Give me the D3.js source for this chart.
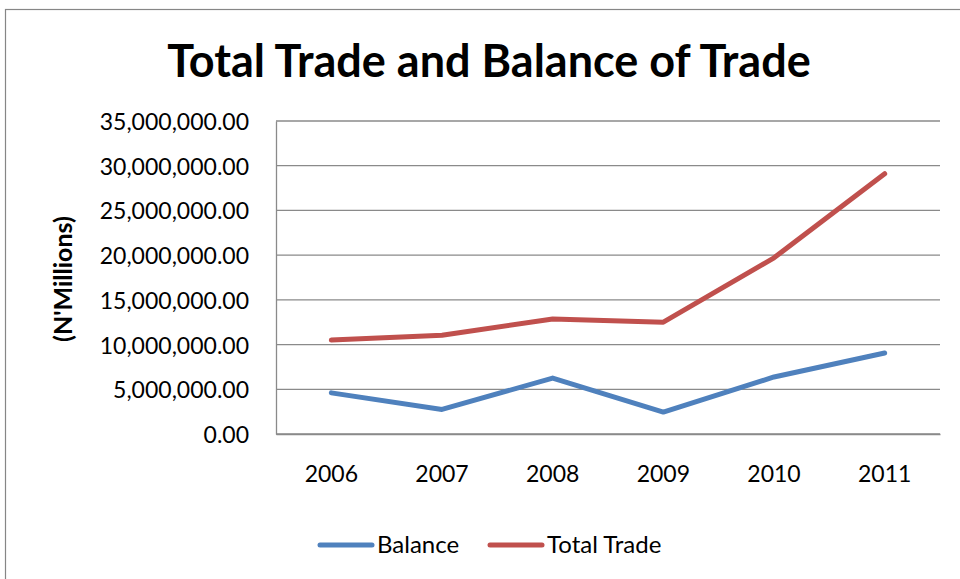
<!DOCTYPE html>
<html>
<head>
<meta charset="utf-8">
<script src="https://cdn.jsdelivr.net/npm/d3@7"></script>
<style>
  html, body { margin: 0; padding: 0; background: #fff; }
  svg { display: block; }
</style>
</head>
<body>
<svg id="chart" width="960" height="579"></svg>
<script>
// Chart data
const years = ["2006", "2007", "2008", "2009", "2010", "2011"];
const balance = [4600000, 2750000, 6250000, 2450000, 6380000, 9050000];
const totalTrade = [10500000, 11050000, 12870000, 12500000, 19700000, 29100000];
const yTicks = [0, 5000000, 10000000, 15000000, 20000000, 25000000, 30000000, 35000000];
const seriesNames = ["Balance", "Total Trade"];
const seriesColors = ["#4F81BD", "#C0504D"];

const font = "Lato, 'Open Sans', sans-serif";
const svg = d3.select("#chart");

// Outer chart frame
svg.append("rect")
  .attr("x", 5.5).attr("y", 9.5)
  .attr("width", 970).attr("height", 600)
  .attr("fill", "#fff").attr("stroke", "#868686").attr("stroke-width", 1.2);

const plot = { left: 276, right: 940, top: 121, bottom: 434 };

const x = d3.scaleBand().domain(years).range([plot.left, plot.right]);
const y = d3.scaleLinear().domain([0, 35000000]).range([plot.bottom, plot.top]);

const fmt = d3.format(",.2f");

// Horizontal gridlines
svg.append("g")
  .selectAll("line")
  .data(yTicks)
  .join("line")
  .attr("x1", plot.left).attr("x2", plot.right)
  .attr("y1", d => y(d)).attr("y2", d => y(d))
  .attr("stroke", "#8a8a8a").attr("stroke-width", 1.3);

// Y axis
const yAxis = svg.append("g")
  .attr("transform", `translate(${plot.left},0)`)
  .call(d3.axisLeft(y).tickValues(yTicks).tickFormat(fmt).tickSize(0).tickPadding(27));
yAxis.select(".domain").attr("stroke", "#8a8a8a").attr("stroke-width", 1.3);
yAxis.selectAll("text")
  .attr("font-family", font).attr("font-size", 23).attr("fill", "#000")
  .attr("dy", "0.37em");

// X axis
const xAxis = svg.append("g")
  .attr("transform", `translate(0,${plot.bottom})`)
  .call(d3.axisBottom(x).tickSize(0).tickPadding(32));
xAxis.select(".domain").attr("stroke", "#8a8a8a").attr("stroke-width", 1.3);
xAxis.selectAll("text")
  .attr("font-family", font).attr("font-size", 23).attr("fill", "#000");

// Y axis title
svg.append("text")
  .attr("transform", "translate(72,279) rotate(-90)")
  .attr("text-anchor", "middle")
  .attr("font-family", font).attr("font-size", 25).attr("font-weight", "bold")
  .text("(N'Millions)");

// Title
svg.append("text")
  .attr("x", 489).attr("y", 77)
  .attr("text-anchor", "middle")
  .attr("font-family", font).attr("font-size", 45).attr("font-weight", "bold")
  .text("Total Trade and Balance of Trade");

// Lines
const line = d3.line()
  .x((d, i) => x(years[i]) + x.bandwidth() / 2)
  .y(d => y(d));

[balance, totalTrade].forEach((vals, k) => {
  svg.append("path")
    .datum(vals)
    .attr("d", line)
    .attr("fill", "none")
    .attr("stroke", seriesColors[k])
    .attr("stroke-width", 5)
    .attr("stroke-linejoin", "round")
    .attr("stroke-linecap", "round");
});

// Legend
const legendItems = [
  { name: seriesNames[0], color: seriesColors[0], x: 320 },
  { name: seriesNames[1], color: seriesColors[1], x: 490 }
];
const lg = svg.append("g");
legendItems.forEach(it => {
  lg.append("line")
    .attr("x1", it.x).attr("x2", it.x + 52)
    .attr("y1", 545).attr("y2", 545)
    .attr("stroke", it.color).attr("stroke-width", 5)
    .attr("stroke-linecap", "round");
  lg.append("text")
    .attr("x", it.x + 57).attr("y", 553)
    .attr("font-family", font).attr("font-size", 24)
    .text(it.name);
});
</script>
</body>
</html>
